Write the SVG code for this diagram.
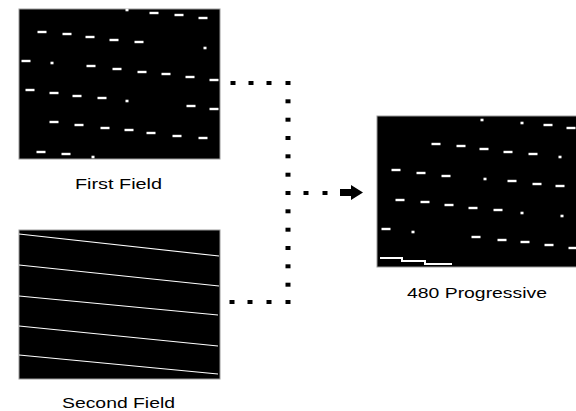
<svg xmlns="http://www.w3.org/2000/svg" width="576" height="411" viewBox="0 0 576 411">
<style>
.field{fill:#000;stroke:#999;stroke-width:1}
.d{fill:#fff}
.ln{stroke:#fff;stroke-width:1.2;fill:none}
.dot{fill:#000}
.lbl{font-family:"Liberation Sans",Arial,sans-serif;font-size:14px;fill:#000}
</style>
<defs>
<rect id="ds" class="d" x="-4.5" y="-1.2" width="9" height="2.4"/>
<rect id="dp" class="d" x="-1.5" y="-1.3" width="3" height="2.6"/>
<rect id="k" class="dot" x="-2.5" y="-2" width="5" height="4"/>
</defs>
<rect width="576" height="411" fill="#fff"/>
<g id="first-field">
<rect class="field" x="19" y="9" width="201" height="150"/>
<use href="#dp" x="127" y="10"/><use href="#ds" x="154" y="13"/><use href="#ds" x="179" y="15"/><use href="#ds" x="203" y="18"/>
<use href="#ds" x="42" y="32"/><use href="#ds" x="67" y="34"/><use href="#ds" x="90" y="37"/><use href="#ds" x="114" y="40"/><use href="#ds" x="139" y="42"/><use href="#dp" x="205" y="48"/>
<use href="#ds" x="26" y="61"/><use href="#dp" x="52" y="63"/><use href="#ds" x="91" y="66"/><use href="#ds" x="117" y="69"/><use href="#ds" x="142" y="72"/><use href="#ds" x="166" y="74"/><use href="#ds" x="190" y="77"/><use href="#ds" x="214" y="80"/>
<use href="#ds" x="30" y="90"/><use href="#ds" x="54" y="93"/><use href="#ds" x="77" y="96"/><use href="#ds" x="102" y="98"/><use href="#dp" x="127" y="101"/><use href="#ds" x="191" y="106"/><use href="#ds" x="214" y="109"/>
<use href="#ds" x="54" y="122"/><use href="#ds" x="79" y="125"/><use href="#ds" x="105" y="128"/><use href="#ds" x="129" y="130"/><use href="#ds" x="151" y="133"/><use href="#ds" x="177" y="136"/><use href="#ds" x="203" y="138"/>
<use href="#ds" x="41" y="152"/><use href="#ds" x="66" y="154"/><use href="#dp" x="93" y="157"/>
<text class="lbl" x="75" y="189" textLength="87" lengthAdjust="spacingAndGlyphs">First Field</text>
</g>
<g id="second-field">
<rect class="field" x="19" y="230" width="201" height="149"/>
<line class="ln" x1="19" y1="234" x2="219" y2="256"/>
<line class="ln" x1="19" y1="265" x2="219" y2="286"/>
<line class="ln" x1="19" y1="296" x2="218" y2="315"/>
<line class="ln" x1="19" y1="326" x2="218" y2="346"/>
<line class="ln" x1="19" y1="355" x2="218" y2="374"/>
<text class="lbl" x="62" y="408" textLength="113" lengthAdjust="spacingAndGlyphs">Second Field</text>
</g>
<g id="progressive">
<rect class="field" x="377" y="116" width="200" height="151"/>
<use href="#dp" x="482" y="120"/><use href="#dp" x="522" y="123"/><use href="#ds" x="548" y="125"/><use href="#ds" x="571" y="128"/>
<use href="#ds" x="436" y="144"/><use href="#ds" x="461" y="146"/><use href="#ds" x="484" y="149"/><use href="#ds" x="508" y="152"/><use href="#ds" x="533" y="154"/><use href="#dp" x="560" y="157"/>
<use href="#ds" x="396" y="170"/><use href="#ds" x="421" y="173"/><use href="#ds" x="446" y="176"/><use href="#dp" x="485" y="179"/><use href="#ds" x="512" y="181"/><use href="#ds" x="537" y="184"/><use href="#ds" x="560" y="186"/>
<use href="#ds" x="400" y="200"/><use href="#ds" x="425" y="202"/><use href="#ds" x="449" y="205"/><use href="#ds" x="473" y="208"/><use href="#ds" x="498" y="210"/><use href="#dp" x="522" y="213"/><use href="#dp" x="562" y="216"/>
<use href="#ds" x="386" y="229"/><use href="#dp" x="413" y="232"/><use href="#ds" x="476" y="237"/><use href="#ds" x="502" y="240"/><use href="#ds" x="525" y="242"/><use href="#ds" x="549" y="245"/><use href="#ds" x="573" y="248"/>
<polyline points="380,258 402,258 402,261 425,261 425,264 452,264" fill="none" stroke="#fff" stroke-width="2"/>
<text class="lbl" x="407" y="298" textLength="140" lengthAdjust="spacingAndGlyphs">480 Progressive</text>
</g>
<g id="connectors">
<use href="#k" x="233" y="83"/><use href="#k" x="251" y="83"/><use href="#k" x="269" y="83"/>
<use href="#k" x="288" y="83"/><use href="#k" x="288" y="101.3"/><use href="#k" x="288" y="119.7"/><use href="#k" x="288" y="138"/><use href="#k" x="288" y="156.3"/><use href="#k" x="288" y="174.7"/><use href="#k" x="288" y="193"/><use href="#k" x="288" y="211.3"/><use href="#k" x="288" y="229.7"/><use href="#k" x="288" y="248"/><use href="#k" x="288" y="266.3"/><use href="#k" x="288" y="284.7"/><use href="#k" x="288" y="302"/>
<use href="#k" x="232" y="302"/><use href="#k" x="250" y="302"/><use href="#k" x="269" y="302"/>
<use href="#k" x="306" y="193"/><use href="#k" x="325" y="193"/>
<polygon class="dot" points="340,189 351,189 351,185 363,192.5 351,200 351,196 340,196"/>
</g>
</svg>
